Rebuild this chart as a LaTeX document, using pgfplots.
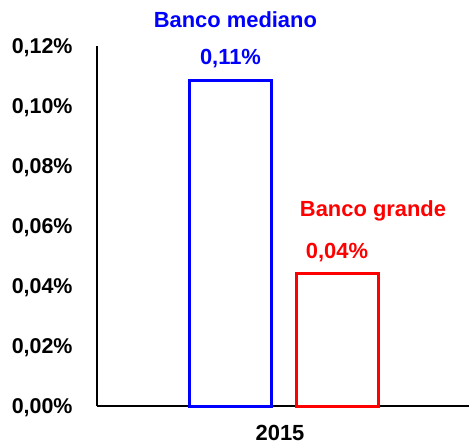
\documentclass[border=0pt]{standalone}
\usepackage{fontspec}
\setmainfont{Liberation Sans}
\usepackage{pgfplots}
\pgfplotsset{compat=1.18}
\begin{document}
\fontsize{22}{26}\selectfont\bfseries
\begin{tikzpicture}
\useasboundingbox (-97bp,-39bp) rectangle (372bp,406bp);
\begin{axis}[
  at={(0,0)}, anchor=south west,
  scale only axis, width=372bp, height=360bp,
  xmin=0, xmax=1, ymin=0, ymax=0.12,
  axis x line=bottom, axis y line=left,
  axis line style={-, line width=1.3bp, black},
  ytick={0,0.02,0.04,0.06,0.08,0.1,0.12},
  yticklabels={{0,00\%},{0,02\%},{0,04\%},{0,06\%},{0,08\%},{0,10\%},{0,12\%}},
  xtick={0.492}, xticklabels={2015},
  major tick length=0pt,
  yticklabel style={anchor=east, xshift=-17bp, yshift=-2bp, font=\fontsize{21.5}{26}\selectfont\bfseries},
  xticklabel style={anchor=base, yshift=-34bp, font=\fontsize{22}{26}\selectfont\bfseries},
  bar width=82bp,
  clip=false,
]
\addplot[ybar, draw={rgb,255:red,0;green,0;blue,255}, fill=white, line width=3bp] coordinates {(0.3589,0.1085)};
\addplot[ybar, draw={rgb,255:red,255;green,0;blue,0}, fill=white, line width=3bp] coordinates {(0.6452,0.0442)};
\node[anchor=base, text={rgb,255:red,0;green,0;blue,255}] at (axis cs:0.372,0.126) {Banco mediano};
\node[anchor=base, text={rgb,255:red,0;green,0;blue,255}] at (axis cs:0.3589,0.1137) {0,11\%};
\node[anchor=base, text={rgb,255:red,255;green,0;blue,0}] at (axis cs:0.742,0.0633) {Banco grande};
\node[anchor=base, text={rgb,255:red,255;green,0;blue,0}] at (axis cs:0.645,0.0493) {0,04\%};
\end{axis}
\end{tikzpicture}
\end{document}
